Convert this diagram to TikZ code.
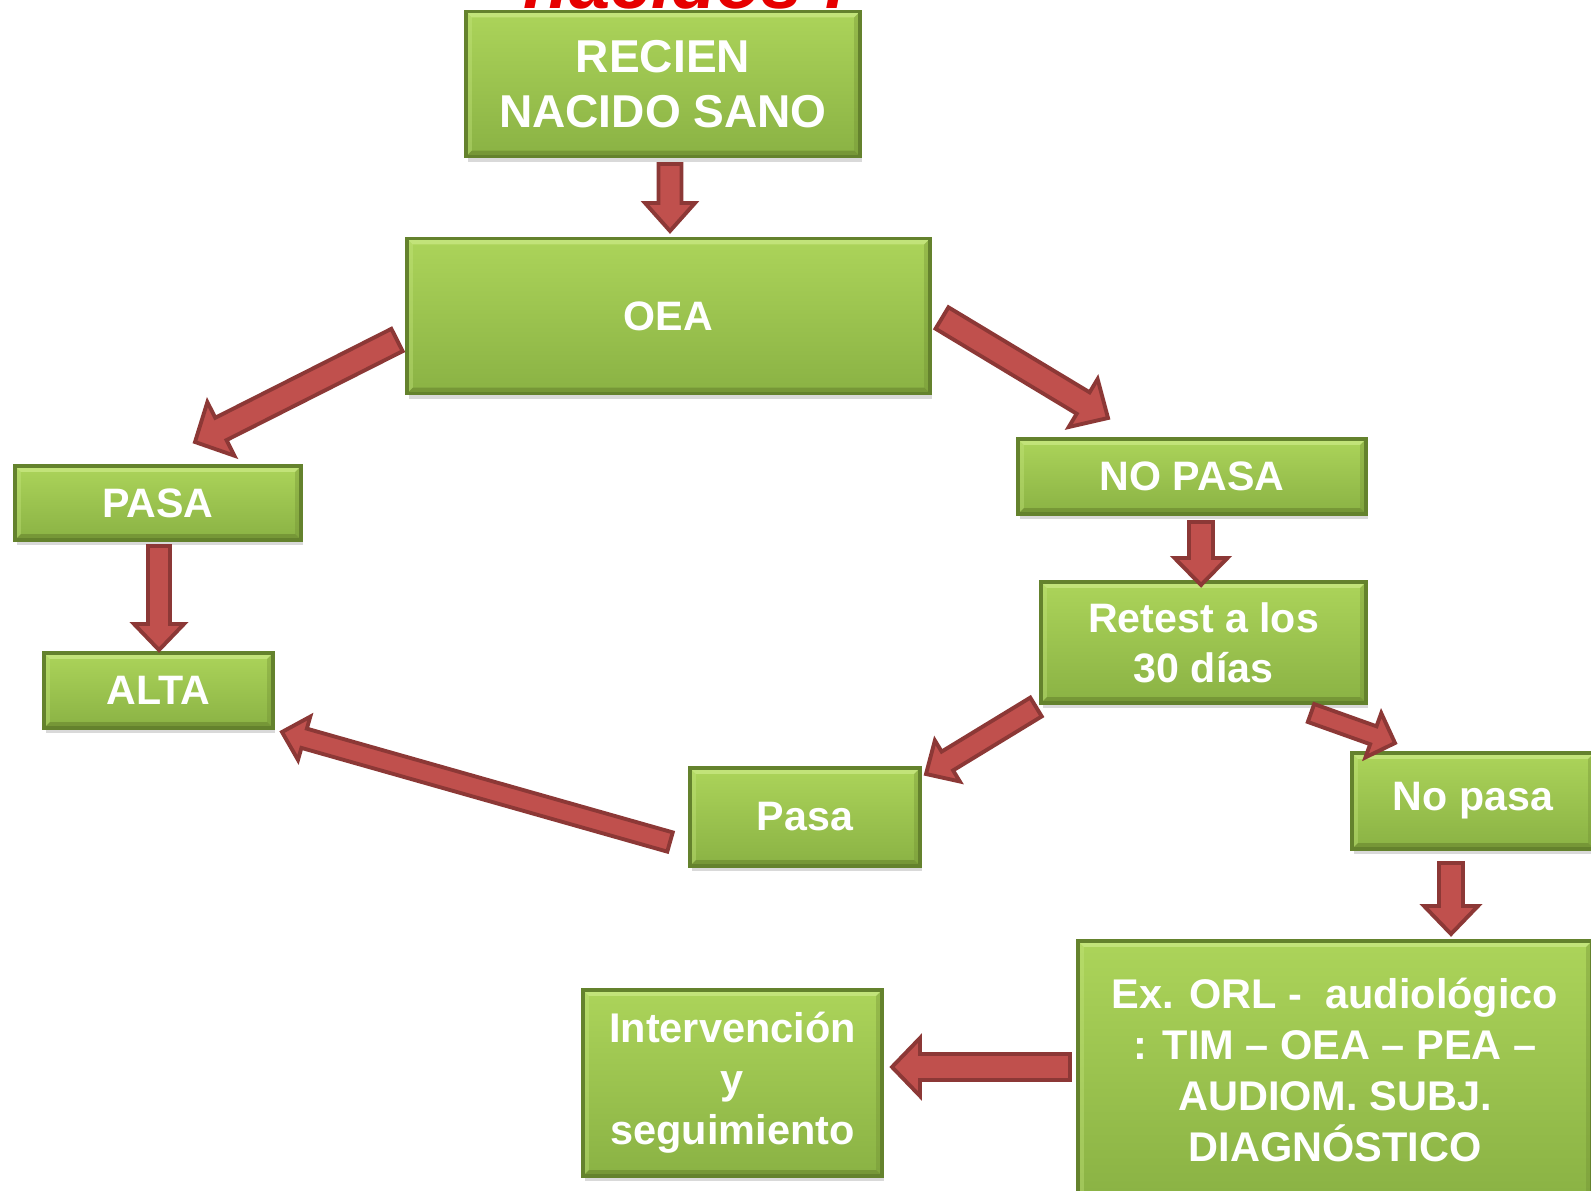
\documentclass[tikz,border=0pt]{standalone}
\usepackage{fontspec}
\setmainfont{Liberation Sans}
\usetikzlibrary{calc,shadows}
\definecolor{gtop}{RGB}{172,212,90}
\definecolor{gbot}{RGB}{138,178,68}
\definecolor{gedge}{RGB}{100,130,45}
\definecolor{gbevlight}{RGB}{200,232,130}
\definecolor{gbevdark}{RGB}{110,140,50}
\definecolor{afill}{RGB}{192,80,77}
\definecolor{aedge}{RGB}{140,56,54}
\definecolor{titlered}{RGB}{230,0,0}
\tikzset{
  gbox/.style={draw=gedge, line width=1pt, top color=gtop, bottom color=gbot,
    text=white, align=center, inner sep=0pt,
    font=\bfseries\fontsize{11.7}{14.3}\selectfont,
    drop shadow={opacity=0.3, shadow xshift=0.6pt, shadow yshift=-1.5pt},
    path picture={
      \fill[gbevlight, opacity=0.8] (path picture bounding box.north west) -- (path picture bounding box.north east)
        -- ($(path picture bounding box.north east)+(-0.06cm,-0.06cm)$) -- ($(path picture bounding box.north west)+(0.06cm,-0.06cm)$) -- cycle;
      \fill[gbevdark, opacity=0.7] (path picture bounding box.south west) -- (path picture bounding box.south east)
        -- ($(path picture bounding box.south east)+(-0.06cm,0.06cm)$) -- ($(path picture bounding box.south west)+(0.06cm,0.06cm)$) -- cycle;
      \fill[gbevdark, opacity=0.35] (path picture bounding box.north east) -- (path picture bounding box.south east)
        -- ($(path picture bounding box.south east)+(-0.06cm,0.06cm)$) -- ($(path picture bounding box.north east)+(-0.06cm,-0.06cm)$) -- cycle;
      \fill[gbevlight, opacity=0.35] (path picture bounding box.north west) -- (path picture bounding box.south west)
        -- ($(path picture bounding box.south west)+(0.06cm,0.06cm)$) -- ($(path picture bounding box.north west)+(0.06cm,-0.06cm)$) -- cycle;
    }},
  barrowsty/.style={draw=aedge, fill=afill, line width=1.1pt, line join=miter},
}
\newcommand\blockarrow[5]{%
  \coordinate (bh) at ($(#2)!#5!(#1)$);
  \draw[barrowsty] ($(#1)!#3!90:(#2)$) -- ($(bh)!#3!90:(#2)$) -- ($(bh)!#4!90:(#2)$)
    -- (#2) -- ($(bh)!#4!-90:(#2)$) -- ($(bh)!#3!-90:(#2)$) -- ($(#1)!#3!-90:(#2)$) -- cycle;}
\begin{document}
\begin{tikzpicture}[x=0.01cm, y=-0.01cm]
\useasboundingbox (0,0) rectangle (1591,1191);
% cut-off title
\node[text=titlered, font=\bfseries\itshape\fontsize{21}{21}\selectfont, anchor=base, inner sep=0pt] (title) at (686,9) {nacidos :};
% boxes
\node[gbox, minimum width=3.94cm, minimum height=1.45cm, font=\bfseries\fontsize{13.1}{15.6}\selectfont] (rn) at (663,84) {RECIEN\\NACIDO SANO};
\node[gbox, minimum width=5.23cm, minimum height=1.55cm] (oea) at (668.5,316) {OEA};
\node[gbox, minimum width=2.86cm, minimum height=0.74cm] (pasa) at (158,503) {PASA};
\node[gbox, minimum width=2.29cm, minimum height=0.75cm] (alta) at (158.5,690.5) {ALTA};
\node[gbox, minimum width=3.48cm, minimum height=0.75cm] (nopasa) at (1192,476.5) {NO PASA};
\node[gbox, minimum width=3.25cm, minimum height=1.21cm] (retest) at (1203.5,642.5) {Retest a los\\30 días};
\node[gbox, minimum width=2.30cm, minimum height=0.98cm] (pasa2) at (805,817) {Pasa};
\node[gbox, minimum width=2.42cm, minimum height=0.96cm] (nopasa2) at (1473,801) {No pasa};
\node[gbox, minimum width=5.14cm, minimum height=2.58cm, font=\bfseries\fontsize{11.8}{14.5}\selectfont] (ex) at (1335,1070) {Ex. ORL -~~audiológico\\: TIM – OEA – PEA –\\AUDIOM. SUBJ.\\DIAGNÓSTICO};
\node[gbox, minimum width=2.99cm, minimum height=1.86cm, font=\bfseries\fontsize{11.8}{14.5}\selectfont] (interv) at (732.5,1083) {Intervención\\y\\seguimiento};
% arrow end points
\coordinate (a1s) at (670,164);  \coordinate (a1e) at (670,231);
\coordinate (a2s) at (397,340);  \coordinate (a2e) at (195,442);
\coordinate (a3s) at (942,318);  \coordinate (a3e) at (1108,418);
\coordinate (a4s) at (1201,522); \coordinate (a4e) at (1201,585);
\coordinate (a5s) at (159,546);  \coordinate (a5e) at (159,650);
\coordinate (a6s) at (1036,707); \coordinate (a6e) at (926,774);
\coordinate (a7s) at (1311,713); \coordinate (a7e) at (1395,743);
\coordinate (a8s) at (670,842);  \coordinate (a8e) at (282,732);
\coordinate (a9s) at (1451,863); \coordinate (a9e) at (1451,934);
\coordinate (a10s) at (1070,1067); \coordinate (a10e) at (892,1067);
% arrows
\blockarrow{a1s}{a1e}{0.115cm}{0.25cm}{0.28cm}
\blockarrow{a2s}{a2e}{0.125cm}{0.30cm}{0.29cm}
\blockarrow{a3s}{a3e}{0.125cm}{0.28cm}{0.29cm}
\blockarrow{a4s}{a4e}{0.12cm}{0.265cm}{0.27cm}
\blockarrow{a5s}{a5e}{0.11cm}{0.25cm}{0.26cm}
\blockarrow{a6s}{a6e}{0.11cm}{0.24cm}{0.25cm}
\blockarrow{a7s}{a7e}{0.095cm}{0.235cm}{0.23cm}
\blockarrow{a8s}{a8e}{0.10cm}{0.225cm}{0.23cm}
\blockarrow{a9s}{a9e}{0.12cm}{0.27cm}{0.28cm}
\blockarrow{a10s}{a10e}{0.13cm}{0.29cm}{0.28cm}
\end{tikzpicture}
\end{document}
